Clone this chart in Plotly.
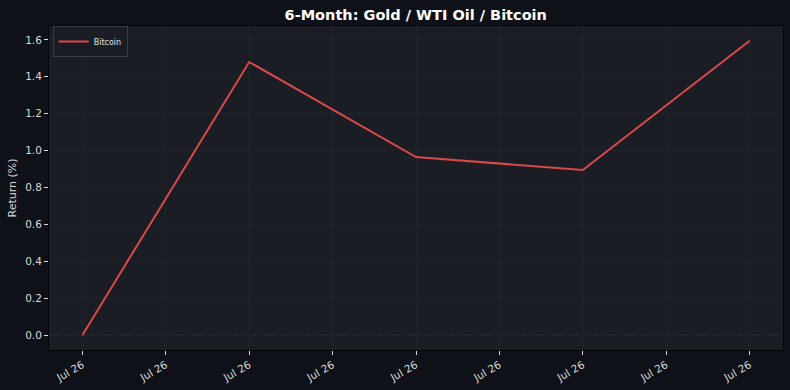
import plotly.graph_objects as go

tick_labels = ["Jul 26"] * 9
x_idx = [0, 2, 4, 6, 8]
btc_returns = [0.0, 1.48, 0.965, 0.895, 1.595]

fig = go.Figure()
fig.add_trace(go.Scatter(
    x=x_idx, y=btc_returns, mode="lines", name="Bitcoin",
    line=dict(color="#d9484a", width=2),
))
fig.add_hline(y=0, line=dict(color="#3a3d44", width=1, dash="dash"), layer="below")

fig.update_layout(
    width=790, height=390,
    paper_bgcolor="#0e1117", plot_bgcolor="#1a1d23",
    margin=dict(l=48.5, r=7, t=25.5, b=40),
    font=dict(family="DejaVu Sans", color="#d8d8d8", size=11),
    title=dict(text="<b>6-Month: Gold / WTI Oil / Bitcoin</b>", x=(48.5 + 783) / 2 / 790,
               xanchor="center", y=1 - 15 / 390, yanchor="middle",
               font=dict(size=14.5, color="#ffffff", family="DejaVu Sans")),
    showlegend=True,
    legend=dict(x=0.005, y=1.0, xanchor="left", yanchor="top",
                bgcolor="#1a1d23", bordercolor="#3a3d44", borderwidth=1,
                tracegroupgap=0, itemwidth=30,
                font=dict(size=8, color="#e0e0e0")),
)
fig.update_xaxes(
    range=[-0.4, 8.4], tickmode="array", tickvals=list(range(9)), ticktext=tick_labels,
    tickangle=-30, ticks="outside", ticklen=4, tickcolor="#d8d8d8",
    showgrid=True, gridcolor="#20232a", gridwidth=1, zeroline=False,
    showline=True, linecolor="#050608", linewidth=1, mirror=True,
    tickfont=dict(size=10.5),
)
fig.update_yaxes(
    range=[-0.0798, 1.675], tickmode="array", tickvals=[0, 0.2, 0.4, 0.6, 0.8, 1.0, 1.2, 1.4, 1.6],
    ticktext=["0.0", "0.2", "0.4", "0.6", "0.8", "1.0", "1.2", "1.4", "1.6"],
    ticks="outside", ticklen=4, tickcolor="#d8d8d8",
    showgrid=True, gridcolor="#20232a", gridwidth=1, zeroline=False,
    showline=True, linecolor="#050608", linewidth=1, mirror=True,
    title=dict(text="Return (%)", font=dict(size=11), standoff=6),
    tickfont=dict(size=10.5),
)

fig.write_html("out.html")
